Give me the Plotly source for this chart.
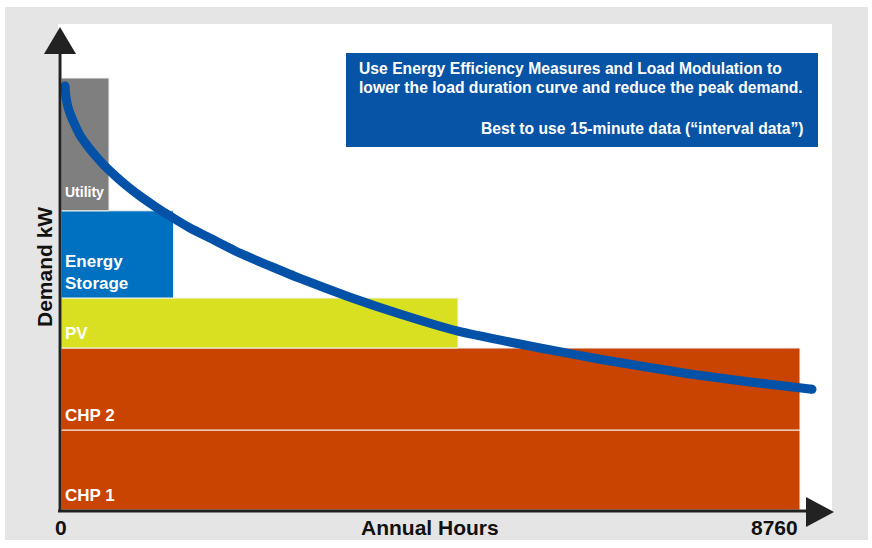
import plotly.graph_objects as go

# ---------------- data ----------------
blocks = ["CHP 1", "CHP 2", "PV", "Energy Storage", "Utility"]
block_labels = ["CHP 1", "CHP 2", "PV", "Energy<br>Storage", "Utility"]
block_bottom_kw = [0, 200, 405, 530, 748]
block_top_kw = [200, 405, 530, 748, 1080]
block_hours = [8760, 8760, 4706, 1334, 569]
block_colors = ["#c84400", "#c84400", "#d9e021", "#0070c0", "#7f7f7f"]
label_sizes = [17, 17, 17, 17, 14]
label_lift = [3, 3, 3, 3, 9]

curve_hours = [47, 59, 83, 119, 166, 225, 308, 403, 510, 640, 782, 936, 1114,
               1292, 1529, 1766, 2122, 2477, 2833, 3426, 4019, 4706, 5678, 6389,
               7456, 8167, 8902]
curve_kw = [1060, 1032, 1007, 985, 962, 937, 912, 887, 862, 836, 810, 785, 759,
            735, 705, 680, 642, 610, 579, 532, 490, 447, 405, 377, 340, 320, 302]

x_tick_labels = ["0", "8760"]

note_lines = ["Use Energy Efficiency Measures and Load Modulation to",
              "lower the load duration curve and reduce the peak demand."]
note_tip = "Best to use 15-minute data (\u201cinterval data\u201d)"

# ---------------- geometry helpers (pixels -> paper) ----------------
W, H = 872, 548
L, R, T, B = 58, 832, 24, 510


def px(x):
    return (x - L) / (R - L)


def py(y):
    return (B - y) / (B - T)


X_RANGE = [(L - 61) * 8760 / 739, (R - 61) * 8760 / 739]
Y_RANGE = [0, (B - T) * 2.5]
FONT = "Liberation Sans, Arial"

fig = go.Figure()

# bars
fig.add_trace(go.Bar(
    x=[h / 2 for h in block_hours],
    y=[t - b for t, b in zip(block_top_kw, block_bottom_kw)],
    base=block_bottom_kw,
    width=block_hours,
    marker=dict(color=block_colors, line=dict(color="#f2f2f2", width=1)),
    hoverinfo="skip",
    showlegend=False,
))

# load duration curve
fig.add_trace(go.Scatter(
    x=curve_hours, y=curve_kw, mode="lines",
    line=dict(color="#0452a8", width=9, shape="spline", smoothing=0.5),
    hoverinfo="skip", showlegend=False,
))
fig.add_trace(go.Scatter(
    x=[curve_hours[0], curve_hours[-1]], y=[curve_kw[0], curve_kw[-1]], mode="markers",
    marker=dict(color="#0452a8", size=9, line=dict(width=0)),
    hoverinfo="skip", showlegend=False,
))

annotations = []
for lab, b, s, lift in zip(block_labels, block_bottom_kw, label_sizes, label_lift):
    annotations.append(dict(
        x=0, y=b, xref="x", yref="y", text="<b>" + lab + "</b>",
        xanchor="left", yanchor="bottom", xshift=2, yshift=lift,
        showarrow=False, align="left",
        font=dict(family=FONT, size=s, color="white"),
    ))

# axis labels
annotations.append(dict(x=px(430), y=py(527), xref="paper", yref="paper",
                        xanchor="center", yanchor="middle",
                        text="<b>Annual Hours</b>", showarrow=False,
                        font=dict(family=FONT, size=21, color="#111")))
annotations.append(dict(x=px(44), y=py(267), xref="paper", yref="paper",
                        xanchor="center", yanchor="middle",
                        text="<b>Demand kW</b>", showarrow=False, textangle=-90,
                        font=dict(family=FONT, size=21, color="#111")))
annotations.append(dict(x=0, y=py(527), xref="x", yref="paper",
                        text="<b>" + x_tick_labels[0] + "</b>", showarrow=False,
                        xanchor="center", yanchor="middle",
                        font=dict(family=FONT, size=21, color="#111")))
annotations.append(dict(x=8760, y=py(527), xref="x", yref="paper",
                        text="<b>" + x_tick_labels[1] + "</b>", showarrow=False,
                        xanchor="right", yanchor="middle",
                        font=dict(family=FONT, size=21, color="#111")))

# text box
for line, yc in zip(note_lines, [69, 88]):
    annotations.append(dict(x=px(357), y=py(yc), xref="paper", yref="paper",
                            text="<b>" + line + "</b>",
                            showarrow=False, xanchor="left", yanchor="middle",
                            font=dict(family=FONT, size=15.7, color="white")))
annotations.append(dict(x=px(806), y=py(128), xref="paper", yref="paper",
                        text="<b>" + note_tip + "</b>",
                        showarrow=False, xanchor="right", yanchor="middle",
                        font=dict(family=FONT, size=15.7, color="white")))

shapes = [
    # grey backdrop and white panel
    dict(type="rect", xref="paper", yref="paper", layer="below",
         x0=px(5), x1=px(868), y0=py(540), y1=py(7),
         fillcolor="#e5e5e5", line=dict(width=0)),
    dict(type="rect", xref="paper", yref="paper", layer="below",
         x0=px(58), x1=px(832), y0=py(510), y1=py(24),
         fillcolor="white", line=dict(width=0)),
    # blue text box
    dict(type="rect", xref="paper", yref="paper",
         x0=px(346), x1=px(818), y0=py(147), y1=py(53),
         fillcolor="#0753a6", line=dict(width=0)),
    # y axis line + arrow
    dict(type="line", xref="paper", yref="paper",
         x0=px(60), x1=px(60), y0=py(512), y1=py(50),
         line=dict(color="#222", width=3)),
    dict(type="path", xref="paper", yref="paper",
         path=f"M {px(60)} {py(27)} L {px(44)} {py(54)} L {px(76)} {py(54)} Z",
         fillcolor="#222", line=dict(width=0)),
    # x axis line + arrow
    dict(type="line", xref="paper", yref="paper",
         x0=px(58), x1=px(810), y0=py(511), y1=py(511),
         line=dict(color="#222", width=3)),
    dict(type="path", xref="paper", yref="paper",
         path=f"M {px(834)} {py(512)} L {px(806)} {py(497)} L {px(806)} {py(527)} Z",
         fillcolor="#222", line=dict(width=0)),
]

fig.update_layout(
    width=W, height=H,
    margin=dict(l=L, r=W - R, t=T, b=H - B),
    paper_bgcolor="white", plot_bgcolor="rgba(0,0,0,0)",
    barmode="overlay",
    xaxis=dict(range=X_RANGE, visible=False, fixedrange=True),
    yaxis=dict(range=Y_RANGE, visible=False, fixedrange=True),
    annotations=annotations, shapes=shapes,
    showlegend=False,
)

fig.write_html("out.html", config={"displayModeBar": False},
               post_script="document.body.style.margin='0';")
